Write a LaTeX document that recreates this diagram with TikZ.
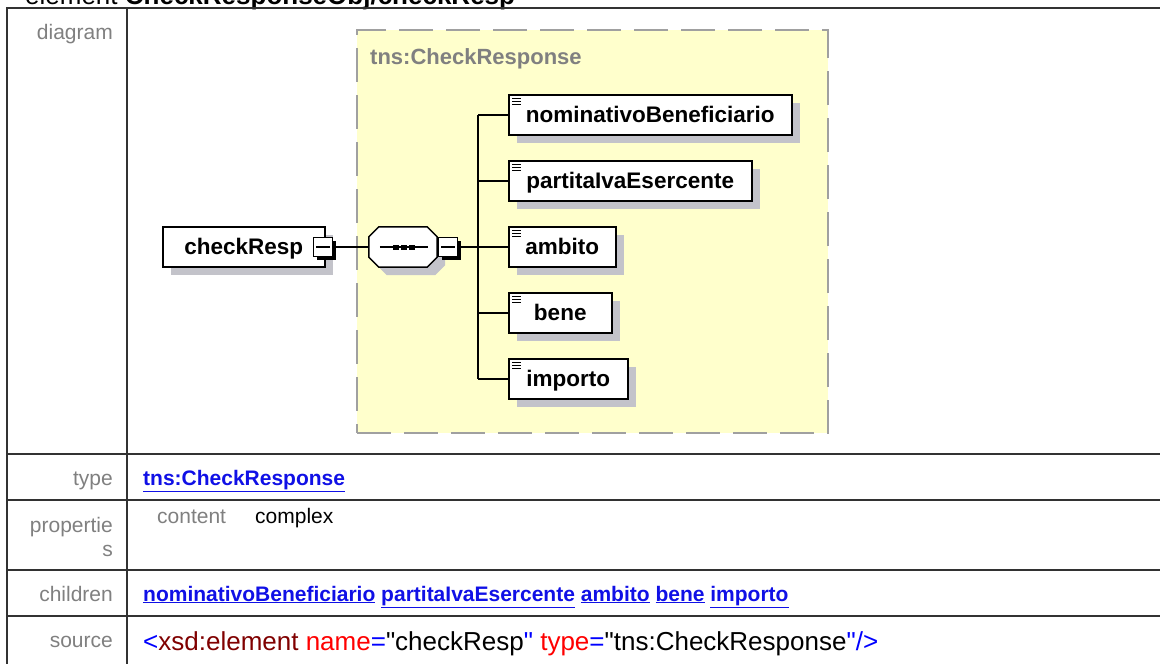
\documentclass[tikz,border=0pt]{standalone}
\usepackage{fontspec}
\setmainfont{Liberation Sans}
\usetikzlibrary{shadows}
\font\srcfont="Liberation Sans" at 26pt
\definecolor{yellowfill}{RGB}{255,255,204}
\definecolor{dashgray}{RGB}{160,160,160}
\definecolor{shadowgray}{RGB}{195,195,202}
\definecolor{labelgray}{RGB}{128,128,128}
\definecolor{linkblue}{RGB}{16,16,230}
\definecolor{xblue}{RGB}{0,0,255}
\definecolor{xmaroon}{RGB}{128,0,0}
\definecolor{xred}{RGB}{255,0,0}
\definecolor{tablegray}{RGB}{50,50,50}
\begin{document}
\begin{tikzpicture}[x=1pt,y=-1pt,
  tline/.style={draw=tablegray,line width=2pt},
  lbl/.style={anchor=base east,inner sep=0pt,text=labelgray,font=\fontsize{21}{25}\selectfont},
  val/.style={anchor=base west,inner sep=0pt,font=\fontsize{21}{25}\selectfont},
  link/.style={anchor=base west,inner sep=0pt,text=linkblue,font=\bfseries\fontsize{21}{25}\selectfont},
  shad/.style={drop shadow={shadow xshift=8pt,shadow yshift=-8pt,fill=shadowgray,opacity=1}},
  elbox/.style={draw,line width=1.5pt,fill=white,minimum height=40pt,inner sep=0pt,
    text height=17pt,text depth=3pt,font=\bfseries\fontsize{22.5}{26}\selectfont,anchor=west,shad},
  minbox/.style={draw,line width=1.5pt,fill=white,minimum size=19pt,inner sep=0pt,
    drop shadow={shadow xshift=3pt,shadow yshift=-3pt,fill=black,opacity=1}},
  conn/.style={draw,line width=1.5pt},
  ctbox/.style={draw=dashgray,fill=yellowfill,line width=2pt,dash pattern=on 34pt off 13pt,inner sep=0pt}
]
\useasboundingbox (0,0) rectangle (1160,664);
\fill[white] (0,0) rectangle (1160,664);

% title (cut off at the top, as in the reference)
\node[anchor=base west,inner sep=0pt,font=\fontsize{26}{30}\selectfont] (title) at (25,4)
  {element \textbf{CheckResponseObj/checkResp}};

% table grid
\draw[tline] (7,8) -- (1160,8);
\draw[tline] (7,454) -- (1160,454);
\draw[tline] (7,500) -- (1160,500);
\draw[tline] (7,570) -- (1160,570);
\draw[tline] (7,616) -- (1160,616);
\draw[tline] (7,7) -- (7,664);
\draw[tline] (127,7) -- (127,664);

% row labels
\node[lbl] (ldiag) at (113,39) {diagram};
\node[lbl] (ltype) at (113,485) {type};
\node[lbl] (lprop1) at (113,532) {propertie};
\node[lbl] (lprop2) at (113,556) {s};
\node[lbl] (lchild) at (113,601) {children};
\node[lbl] (lsrc) at (113,647) {source};

% row values
\node[link] (vtype) at (143,485) {\underline{tns:CheckResponse}};
\node[val,text=labelgray] (pcontent) at (157,523) {content};
\node[val] (pcomplex) at (255,523) {complex};
\node[link] (vchild) at (143,601) {\underline{nominativoBeneficiario} \underline{partitaIvaEsercente} \underline{ambito} \underline{bene} \underline{importo}};
\node[anchor=base west,inner sep=0pt,font=\srcfont] (vsrc) at (143,650)
  {\textcolor{xblue}{<}\textcolor{xmaroon}{xsd:element} \textcolor{xred}{name}\textcolor{xblue}{=}"checkResp\textcolor{xblue}{"} \textcolor{xred}{type}\textcolor{xblue}{=}"tns:CheckResponse\textcolor{xblue}{"/>}};

% complex type frame
\node[ctbox,minimum width=471pt,minimum height=403pt,anchor=north west] (ctype) at (356,29) {};
\node[anchor=base west,inner sep=0pt,text=labelgray,font=\bfseries\fontsize{22}{26}\selectfont] (ctname) at (370,64) {tns:CheckResponse};

% root element
\node[elbox,minimum width=162pt] (root) at (162,247) {checkResp\hspace{6pt}};
\node[minbox] (cmin) at (323,247) {};
\draw[line width=1.5pt] ([xshift=3.5pt]cmin.west) -- ([xshift=-3.5pt]cmin.east);

% sequence compositor
\node[minimum width=68pt,minimum height=40pt,inner sep=0pt] (seq) at (403,247) {};
\draw[conn] (cmin.east) -- (seq.west);
\draw[line width=1.5pt,fill=white,shad]
  ([xshift=10pt]seq.north west) -- ([xshift=-10pt]seq.north east) -- ([yshift=-10pt]seq.north east)
  -- ([yshift=10pt]seq.south east) -- ([xshift=-10pt]seq.south east) -- ([xshift=10pt]seq.south west)
  -- ([yshift=10pt]seq.south west) -- ([yshift=-10pt]seq.north west) -- cycle;
\draw[line width=1.5pt] ([xshift=11pt]seq.west) -- ([xshift=-9pt]seq.east);
\foreach \dx in {-7,1,9} \fill ([xshift=\dx pt]seq.center) +(-3,-2.5) rectangle +(3,2.5);
\node[minbox] (smin) at (448,247) {};
\draw[line width=1.5pt] ([xshift=3.5pt]smin.west) -- ([xshift=-3.5pt]smin.east);

% children
\node[elbox,minimum width=283pt] (c1) at (508,115) {nominativoBeneficiario};
\node[elbox,minimum width=243pt] (c2) at (508,181) {partitaIvaEsercente};
\node[elbox,minimum width=107pt] (c3) at (508,247) {ambito};
\node[elbox,minimum width=103pt] (c4) at (508,313) {bene};
\node[elbox,minimum width=119pt] (c5) at (508,379) {importo};
\foreach \i in {1,...,5} {
  \foreach \dy in {4,7,10}
    \draw[line width=1.2pt] ([shift={(4pt,-\dy pt)}]c\i.north west) -- ++(9,0);
}

% connectors
\coordinate (tr) at (478,247);
\draw[conn] (smin.east) -- (tr);
\draw[conn] (tr |- c1.west) -- (tr |- c5.west);
\foreach \i in {1,...,5} \draw[conn] (tr |- c\i.west) -- (c\i.west);
\end{tikzpicture}
\end{document}
